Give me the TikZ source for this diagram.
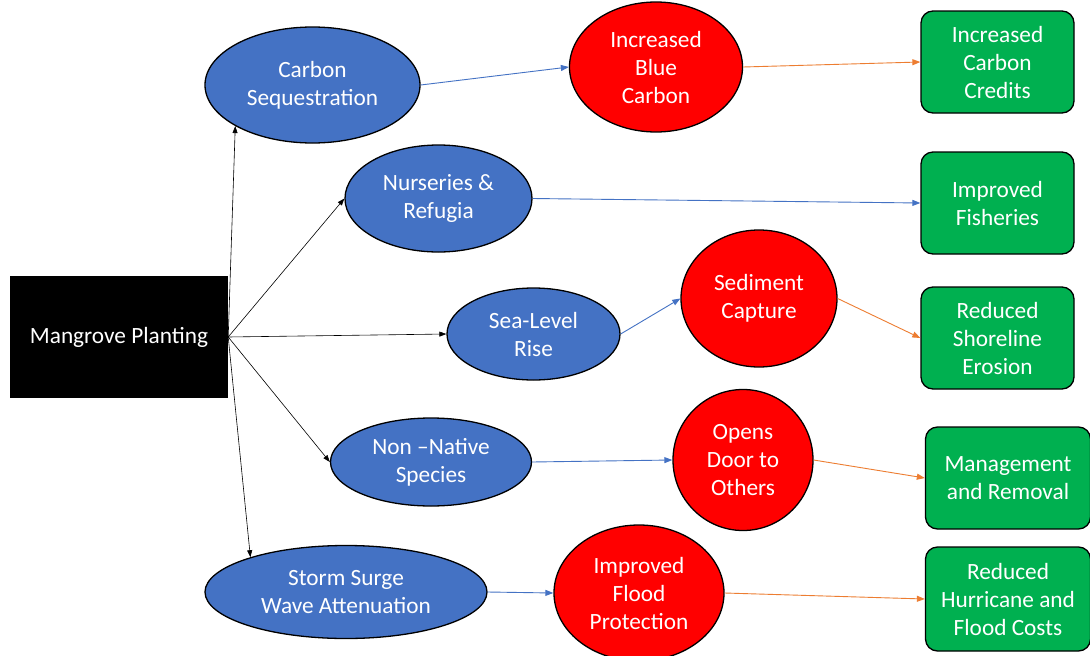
\documentclass[tikz,border=0pt]{standalone}
\usepackage{fontspec}
\setmainfont{Carlito}
\usetikzlibrary{shapes.geometric,arrows.meta}
\definecolor{cblue}{HTML}{4472C4}
\definecolor{cred}{HTML}{FF0000}
\definecolor{cgreen}{HTML}{00B050}
\definecolor{corange}{HTML}{ED7D31}
\tikzset{
  txt/.style={text=white,align=center,font=\fontsize{23.3}{28}\selectfont,inner sep=0pt},
  blueell/.style={txt,ellipse,draw=black,line width=1.3pt,fill=cblue},
  redell/.style={txt,ellipse,draw=black,line width=1.3pt,fill=cred},
  greenbox/.style={txt,rectangle,rounded corners=12pt,draw=black,line width=1.3pt,fill=cgreen,minimum width=153pt,minimum height=102pt},
  blk/.style={-{Triangle[length=7pt,width=5pt]},black,line width=0.6pt},
  bl/.style={-{Triangle[length=8pt,width=6pt]},cblue,line width=0.9pt},
  or/.style={-{Triangle[length=8pt,width=6pt]},corange,line width=0.9pt},
}
\begin{document}
\begin{tikzpicture}[x=1pt,y=-1pt]
\useasboundingbox[fill=white] (0,0) rectangle (1090,656);
\node[txt,fill=black,minimum width=218pt,minimum height=122pt] (m) at (119,337) {Mangrove Planting};
\node[blueell,minimum width=215pt,minimum height=116pt] (cs) at (312.5,85) {Carbon\\Sequestration};
\node[blueell,minimum width=187pt,minimum height=107pt] (nr) at (438.5,198.5) {Nurseries \&\\Refugia};
\node[blueell,minimum width=173pt,minimum height=92pt] (sl) at (533.5,334) {Sea-Level\\Rise};
\node[blueell,minimum width=201pt,minimum height=88pt] (nn) at (431,462) {Non –Native\\Species};
\node[blueell,minimum width=282pt,minimum height=93pt] (ss) at (346,592) {Storm Surge\\Wave Attenuation};
\node[redell,minimum width=173pt,minimum height=130pt] (bc) at (656,67) {Increased\\Blue\\Carbon};
\node[redell,minimum width=156pt,minimum height=137pt] (sc) at (759,298.5) {Sediment\\Capture};
\node[redell,minimum width=140pt,minimum height=141pt] (od) at (743,460) {Opens\\Door to\\Others};
\node[redell,minimum width=170pt,minimum height=136pt] (fp) at (639,593) {Improved\\Flood\\Protection};
\node[greenbox] (cc) at (997.5,62) {Increased\\Carbon\\Credits};
\node[greenbox] (if) at (997.5,203) {Improved\\Fisheries};
\node[greenbox] (se) at (997.5,338) {Reduced\\Shoreline\\Erosion};
\node[greenbox,minimum width=165pt] (mr) at (1008,478) {Management\\and Removal};
\node[greenbox,minimum width=165pt,minimum height=104pt] (hc) at (1008,599) {Reduced\\Hurricane and\\Flood Costs};
\draw[blk] (m.east) -- (cs.208);
\draw[blk] (m.east) -- (nr.west);
\draw[blk] (m.east) -- (sl.west);
\draw[blk] (m.east) -- (nn.west);
\draw[blk] (m.east) -- (ss.160);
\draw[bl] (cs.east) -- (bc.west);
\draw[bl] (nr.east) -- (if.west);
\draw[bl] (sl.east) -- (sc.west);
\draw[bl] (nn.east) -- (od.west);
\draw[bl] (ss.east) -- (fp.west);
\draw[or] (bc.east) -- (cc.west);
\draw[or] (sc.east) -- (se.west);
\draw[or] (od.east) -- (mr.west);
\draw[or] (fp.east) -- (hc.west);
\end{tikzpicture}
\end{document}
